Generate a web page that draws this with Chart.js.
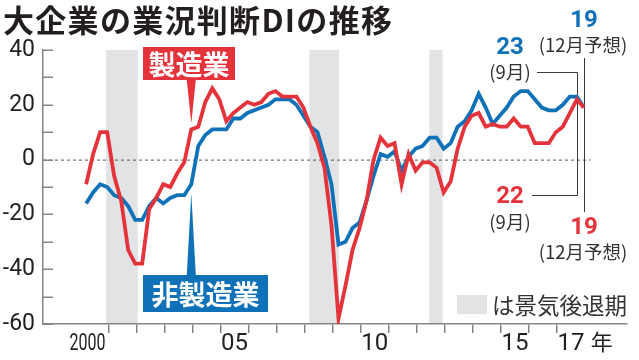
<!DOCTYPE html>
<html>
<head>
<meta charset="utf-8">
<style>
  html, body { margin: 0; padding: 0; background: #fff; }
  #wrap { width: 639px; height: 360px; }
</style>
<script src="https://cdn.jsdelivr.net/npm/chart.js@4.4.0/dist/chart.umd.min.js"></script>
</head>
<body>
<div id="wrap"><canvas id="chart" width="639" height="360"></canvas></div>
<script>
// --- DATA ---
const years = [2000, 2001, 2002, 2003, 2004, 2005, 2006, 2007, 2008,
               2009, 2010, 2011, 2012, 2013, 2014, 2015, 2016, 2017];
const surveyMonths = [3, 6, 9, 12];

// 大企業・製造業 (one value per survey, Mar/Jun/Sep/Dec)
const manufacturing = [
  -9, 2, 10, 10,     -6, -15, -33, -38,   -38, -18, -14, -9,   -10, -5, -1, 11,
  12, 21, 26, 22,    14, 17, 19, 21,      20, 21, 24, 25,      23, 23, 23, 19,
  12, 6, -3, -24,    -58, -46, -33, -25,  -15, 0, 8, 5,        6, -9, 2, -4,
  -1, -1, -3, -12,   -8, 4, 12, 16,       17, 12, 13, 12,      12, 15, 12, 12,
  6, 6, 6, 10,       12, 17, 22, 19
];
// 大企業・非製造業
const nonManufacturing = [
  -16, -12, -9, -10, -13, -14, -17, -22,  -22, -17, -14, -16,  -14, -13, -13, -9,
  5, 9, 11, 11,      11, 15, 15, 17,      18, 19, 20, 22,      22, 22, 20, 16,
  12, 10, 1, -9,     -31, -30, -25, -23,  -15, -6, 2, 1,       3, -4, 1, 4,
  5, 8, 8, 4,        6, 12, 14, 18,       24, 19, 13, 16,      19, 23, 25, 25,
  22, 19, 18, 18,    20, 23, 23, 19
];

// 景気後退期 (start, end as fractional years)
const recessions = [[2000.92, 2002.05], [2008.17, 2009.23], [2012.45, 2012.92]];

const yearLabels = ['2000', '05', '10', '15', '17'];
const yearLabelYears = [2000, 2005, 2010, 2015, 2017];

// --- STYLE ---
const RED = '#e5333b';
const BLUE = '#0f72b8';
const AXIS = '#858585';
const BAND = '#e2e3e5';
const INK = '#231f20';
const JP = "'Noto Sans CJK JP', sans-serif";
const NUM = "'Liberation Sans Narrow', 'Roboto', sans-serif";

function toPoints(values) {
  const pts = [];
  years.forEach((yr, yi) => {
    surveyMonths.forEach((m, qi) => {
      pts.push({ x: yr + (m - 0.5) / 12, y: values[yi * 4 + qi] });
    });
  });
  return pts;
}

const lastYear = years[years.length - 1];
const sepX = lastYear + 8.5 / 12;
const decX = lastYear + 11.5 / 12;

function text(ctx, str, x, y, font, color, align) {
  ctx.font = font;
  ctx.fillStyle = color;
  ctx.textAlign = align || 'center';
  ctx.textBaseline = 'middle';
  ctx.fillText(str, x, y);
}

// squeeze text horizontally to a given width, keeping its height
function squeezed(ctx, str, cx, y, font, color, width) {
  ctx.save();
  ctx.font = font;
  const w = ctx.measureText(str).width;
  const k = Math.min(1, width / w);
  ctx.translate(cx, y);
  ctx.scale(k, 1);
  text(ctx, str, 0, 0, font, color);
  ctx.restore();
}

function labelBox(ctx, str, left, top, w, h, color, tipX, tipY, up) {
  ctx.fillStyle = color;
  ctx.fillRect(left, top, w, h);
  // pointer
  const baseY = up ? top : top + h;
  ctx.beginPath();
  ctx.moveTo(tipX - 4.5, baseY);
  ctx.lineTo(tipX + 4.5, baseY);
  ctx.lineTo(tipX, tipY);
  ctx.closePath();
  ctx.fill();
  text(ctx, str, left + w / 2, top + h / 2 + 1, 'bold 27px ' + JP, '#fff');
}

const decor = {
  id: 'decor',
  beforeDraw(chart) {
    const { ctx, chartArea: a, scales: { x, y } } = chart;
    ctx.save();
    ctx.fillStyle = '#fff';
    ctx.fillRect(0, 0, chart.width, chart.height);
    // recession bands
    ctx.fillStyle = BAND;
    recessions.forEach(([s, e]) => {
      const x0 = x.getPixelForValue(s), x1 = x.getPixelForValue(e);
      ctx.fillRect(x0, a.top, x1 - x0, a.bottom - a.top);
    });
    // zero line
    const y0 = y.getPixelForValue(0);
    ctx.strokeStyle = '#555';
    ctx.lineWidth = 1;
    ctx.setLineDash([3, 3]);
    ctx.beginPath();
    ctx.moveTo(a.left, y0 + 0.5);
    ctx.lineTo(x.getPixelForValue(lastYear + 1.2), y0 + 0.5);
    ctx.stroke();
    ctx.setLineDash([]);
    ctx.restore();
  },
  beforeDatasetsDraw(chart) {
    const { ctx, chartArea: a, scales: { x, y } } = chart;
    ctx.save();
    // inward y ticks
    ctx.strokeStyle = AXIS;
    ctx.lineWidth = 1.5;
    for (let v = -60; v <= 40; v += 10) {
      const py = Math.round(y.getPixelForValue(v)) + 0.25;
      ctx.beginPath();
      ctx.moveTo(a.left, py);
      ctx.lineTo(a.left + 10, py);
      ctx.stroke();
    }
    // leader lines for latest values
    const xs = Math.round(x.getPixelForValue(sepX)) + 0.5;
    const xd = Math.round(x.getPixelForValue(decX)) + 0.5;
    ctx.strokeStyle = '#3a3a3a';
    ctx.lineWidth = 1;
    ctx.beginPath();
    ctx.moveTo(537, 72.5); ctx.lineTo(xs, 72.5); ctx.lineTo(xs, 195.5); ctx.lineTo(532, 195.5);
    ctx.moveTo(xd, 58); ctx.lineTo(xd, 212);
    ctx.stroke();
    ctx.restore();
  },
  afterDatasetsDraw(chart) {
    const { ctx, scales: { x, y } } = chart;
    ctx.save();
    // series label boxes pointing at the Dec 2003 survey
    const px = x.getPixelForValue(2003 + 11.5 / 12);
    labelBox(ctx, '製造業', 143, 47, 92, 33, RED, px, y.getPixelForValue(manufacturing[15]) - 6, false);
    labelBox(ctx, '非製造業', 143, 275, 125, 37, BLUE, px, y.getPixelForValue(nonManufacturing[15]) + 9, true);

    // latest value annotations
    const n = manufacturing.length;
    const small = '18.5px ' + JP;
    text(ctx, String(nonManufacturing[n - 2]), 510, 48, 'bold 24px Roboto', BLUE);
    text(ctx, '(9月)', 510, 72, small, '#333');
    text(ctx, String(nonManufacturing[n - 1]), 584, 21, 'bold 24px Roboto', BLUE);
    text(ctx, '(12月予想)', 583, 45, small, '#333');
    text(ctx, String(manufacturing[n - 2]), 510, 197, 'bold 24px Roboto', RED);
    text(ctx, '(9月)', 510, 222, small, '#333');
    text(ctx, String(manufacturing[n - 1]), 584, 228, 'bold 24px Roboto', RED);
    text(ctx, '(12月予想)', 583, 252, small, '#333');

    // legend for bands
    ctx.fillStyle = BAND;
    ctx.fillRect(457, 295, 30, 19);
    text(ctx, 'は景気後退期', 492, 305, '22.5px ' + JP, '#333', 'left');
    ctx.restore();
  },
  afterDraw(chart) {
    const { ctx, scales: { x } } = chart;
    ctx.save();
    yearLabels.forEach((lab, i) => {
      const yr = yearLabelYears[i];
      const cx = x.getPixelForValue(yr + (i === 0 ? 0.26 : 0.5));
      squeezed(ctx, lab, cx, 344, '24px ' + NUM, INK, i === 0 ? 36 : 100);
    });
    text(ctx, '年', x.getPixelForValue(lastYear + 1.6), 342, '22px ' + JP, INK);
    // title
    ctx.letterSpacing = '1.3px';
    text(ctx, '大企業の業況判断DIの推移', 3, 20, 'bold 31px ' + JP, INK, 'left');
    ctx.restore();
  }
};

const ctx = document.getElementById('chart').getContext('2d');
new Chart(ctx, {
  type: 'line',
  data: {
    datasets: [
      { label: '製造業', data: toPoints(manufacturing), borderColor: RED,
        borderWidth: 3.8, pointRadius: 0, tension: 0, fill: false },
      { label: '非製造業', data: toPoints(nonManufacturing), borderColor: BLUE,
        borderWidth: 3.8, pointRadius: 0, tension: 0, fill: false }
    ]
  },
  options: {
    responsive: false,
    animation: false,
    devicePixelRatio: 1,
    layout: { padding: { left: 3, right: 12.5, top: 50, bottom: 0 } },
    plugins: {
      legend: { display: false },
      tooltip: { enabled: false },
      title: { display: false }
    },
    scales: {
      x: {
        type: 'linear',
        min: 1998.67,
        max: 2019.48,
        afterBuildTicks: s => { s.ticks = years.slice(1).map(v => ({ value: v })); },
        ticks: { display: false },
        grid: { drawOnChartArea: false, tickLength: 9, color: AXIS, lineWidth: 1.5 },
        border: { color: AXIS, width: 1.5 },
        afterFit: s => { s.height = 36; }
      },
      y: {
        min: -60,
        max: 40,
        afterBuildTicks: s => {
          const t = [];
          for (let v = -60; v <= 40; v += 20) t.push({ value: v });
          s.ticks = t;
        },
        ticks: { color: INK, padding: 8, font: { family: NUM, size: 23 } },
        grid: { display: false, drawTicks: false },
        border: { color: AXIS, width: 1.5 },
        afterFit: s => { s.width = 40; }
      }
    }
  },
  plugins: [decor]
});
</script>
</body>
</html>
